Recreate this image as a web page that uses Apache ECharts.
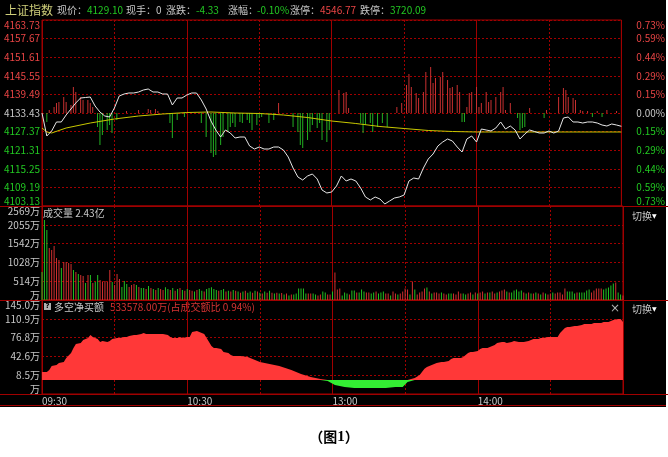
<!DOCTYPE html>
<html><head><meta charset="utf-8">
<script src="https://cdn.jsdelivr.net/npm/echarts@6/dist/echarts.min.js"></script>
<style>
html,body{margin:0;padding:0;background:#fff;}
#bg{position:absolute;left:0;top:0;width:666px;height:407px;background:#000;}
#c{position:absolute;left:0;top:0;width:668px;height:457px;}
</style>
</head><body><div id="bg"></div><div id="c"></div>
<script>
// ---------------- data ----------------
const prevClose = 4133.43;
const priceStep = 6.06;          // price per grid row
const priceEvery = 2;            // minutes between price samples
const priceValues = [
 4133.43,4125.94,4127.57,4130.50,4130.50,4132.78,4134.73,4136.69,4138.32,4138.48,
 4138.64,4135.71,4133.76,4132.45,4132.13,4135.06,4138.97,4139.62,4139.95,4139.95,
 4140.27,4140.92,4141.25,4140.27,4140.27,4139.62,4139.62,4136.04,4138.32,4138.32,
 4139.29,4139.95,4139.95,4137.67,4134.73,4130.82,4127.89,4125.61,4127.89,4126.91,
 4125.28,4125.61,4125.61,4122.68,4121.70,4122.35,4121.70,4121.70,4122.35,4122.35,
 4121.38,4119.09,4115.51,4112.58,4111.60,4112.90,4113.56,4111.93,4108.34,4107.37,
 4107.69,4109.65,4112.90,4111.28,4111.93,4111.28,4108.99,4106.06,4105.09,4106.06,
 4105.41,4103.78,4104.76,4105.74,4106.06,4106.71,4111.28,4112.25,4111.93,4115.51,
 4118.44,4120.07,4122.68,4123.98,4124.96,4124.31,4122.35,4120.72,4124.96,4125.94,
 4123.98,4128.22,4127.89,4127.57,4128.54,4130.50,4128.22,4129.19,4127.89,4124.96,
 4126.59,4127.89,4127.40,4126.91,4126.91,4127.57,4126.91,4127.57,4131.80,4132.13,
 4130.50,4130.50,4130.17,4130.50,4130.50,4130.17,4129.52,4129.19,4129.85,4129.52,
 4129.10
];
const avgMinutes = [0,2,4,10,20,30,40,50,60,70,80,90,100,110,120,130,140,150,160,170,180,200,220,240];
const avgValues  = [4128.54,4127.24,4126.91,4128.54,4130.17,4131.48,4132.45,4133.10,4133.59,4133.76,
  4133.43,4133.27,4132.78,4131.96,4130.82,4130.01,4129.03,4128.38,4127.73,4127.40,4127.24,4127.24,4127.24,4127.24];

const strengthMinutes = [2,3,5,6,7,9,10,12,13,14,16,17,19,20,21,23,24,25,27,28,29,31,35,40,44,45,47,48,
  53,54,56,59,66,68,70,71,72,74,75,77,78,79,80,82,83,85,86,87,89,90,91,94,96,98,
  104,106,107,108,110,111,112,114,115,116,118,119,123,125,126,127,132,133,134,136,137,139,141,143,
  147,149,151,152,153,155,156,158,159,161,162,163,165,166,168,169,170,172,173,174,175,176,177,178,
  180,181,182,184,185,186,188,190,191,192,194,197,198,199,200,202,208,209,214,216,217,218,220,221,
  223,224,226,228,230,232,234,238];
const strengthValues = [-9,3,6,10,11,16,11,8,26,21,16,13,13,10,6,-14,-32,-22,-17,-12,-20,-7,2,3,4,3,4,2,
  -10,-25,-7,-4,-10,-24,-40,-44,-42,-32,-24,-19,-14,-10,-14,-9,-10,-7,-10,-17,-12,-5,-4,-10,-7,10,
  -14,-19,-32,-35,-27,-19,-12,-15,-10,-27,-29,-17,23,20,21,5,-10,-20,-12,-10,-19,-14,-10,-14,
  6,10,28,39,26,20,15,21,41,46,30,35,36,41,33,25,26,28,21,-9,-9,6,20,21,
  26,6,10,21,11,13,16,21,26,3,10,-5,-17,-15,-14,5,-5,3,16,25,23,16,15,13,
  3,2,2,-4,2,-4,3,2];

const volumeValues = [
 765,2186,1911,1420,1366,1475,1147,1093,874,1038,
 1038,1011,983,820,765,710,683,656,465,683,
 683,465,492,683,547,492,520,492,820,492,
 410,710,574,356,520,437,356,410,437,410,
 356,328,330,300,380,330,300,270,330,300,
 270,350,300,270,330,250,300,330,270,250,
 300,270,250,230,270,300,250,230,300,330,
 350,300,270,250,270,300,230,250,230,270,
 250,230,200,230,250,200,230,200,250,230,
 200,180,230,200,250,200,180,200,180,193,
 150,178,123,150,150,178,314,314,314,178,
 178,178,178,150,123,150,232,205,150,150,
 232,752,287,314,123,205,178,150,260,260,
 205,205,287,232,205,205,178,205,232,178,
 205,232,178,178,123,232,178,150,178,232,
 314,287,150,506,287,150,205,232,314,342,
 232,178,205,205,178,205,178,150,178,178,
 178,150,232,178,178,150,178,205,150,205,
 178,205,232,178,205,205,232,178,205,232,
 260,287,232,205,205,260,287,232,260,205,
 178,205,178,178,205,178,150,205,178,150,
 178,205,178,205,205,150,314,232,232,232,
 178,205,205,205,205,260,287,205,260,314,
 314,314,287,314,342,396,451,478,205,150,
 123
];
const volumeDir = [
 'GGGRRRRRGR','RRRGRGRRGR','GRGGRRRRRG','RRRGGGRRRG','RGGRGRGRGR',
 'RGGRGRGRGR','GRRGRGGRGG','GGGRGGRGRG','RGRGRGGRGR','GRGRGRGRGR',
 'GRGRGGGGGG','RRGGRRGGRR','GRRRGGGRGG','RGGGRRGGRG','GGRRGRRGRR',
 'RRGRGRRRRG','RGRRRGRRGG','RRRRGGRRGR','GRRGRGRRGR','RRGRGGGGGR',
 'GRGRGRGRGR','RGRRRRRGGG','GRGGGGGRRR','RRGGGGGRGG','R'
].join('');

const netMinutes = [0,2,3,4,6,7,9,10,12,13,14,16,17,19,20,21,23,24,25,27,28,29,31,32,34,35,36,38,39,41,
  42,43,45,46,48,49,50,52,53,54,56,57,58,60,61,62,64,65,67,68,70,71,72,74,75,77,78,79,82,85,
  90,94,98,103,107,111,115,118,121,125,129,134,138,142,146,149,151,154,156,158,159,161,162,163,
  165,166,168,169,170,172,173,174,176,177,178,180,181,182,184,185,187,188,190,191,192,194,195,197,
  198,199,201,202,203,205,206,207,209,210,211,213,214,216,217,218,220,221,223,224,226,227,228,230,
  231,232,234,235,236,238,239,240];
const netValues = [14.5,14.5,18.1,25.4,27.2,30.8,32.7,39.9,49.0,58.0,65.3,67.1,72.6,76.2,81.6,78.0,74.4,68.9,70.7,68.9,
  70.7,74.4,76.2,76.2,78.0,78.0,79.8,81.6,81.6,83.4,85.3,83.4,83.4,83.4,83.4,83.4,83.4,81.6,78.0,76.2,
  76.2,78.0,76.2,78.0,78.0,87.1,88.9,87.1,83.4,76.2,61.7,58.0,58.0,56.2,50.8,49.0,45.4,43.5,43.5,41.7,
  32.7,29.0,25.4,18.1,10.9,5.4,1.8,-1.8,-9.1,-12.7,-14.5,-14.5,-14.5,-14.5,-12.7,-12.7,-3.6,3.6,9.1,20.0,
  23.6,27.2,29.0,30.8,32.7,32.7,34.5,38.1,39.9,39.9,39.9,41.7,49.0,50.8,50.8,52.6,56.2,58.0,58.0,59.9,
  63.5,67.1,68.9,68.9,67.1,68.9,70.7,68.9,68.9,68.9,70.7,72.6,74.4,74.4,76.2,76.2,78.0,78.0,78.0,78.0,
  85.3,94.3,96.1,96.1,98.0,98.0,99.8,101.6,101.6,101.6,103.4,103.4,103.4,105.2,105.2,107.0,108.8,110.7,110.7,105.2];

const timeLabels = {0:'09:30', 60:'10:30', 120:'13:00', 180:'14:00'};
const volMax = 2569;
const volTickLabels = ['万','514万','1028万','1542万','2055万','2569万'];
const netMin = -25.6, netMax = 145.0;
const netTickLabels = ['万','8.5万','42.6万','76.8万','110.9万','145.0万'];

// ---------------- styles ----------------
const FONT = 'Noto Sans CJK SC';
const RED_T = '#e84444', GRN_T = '#22c822', GRY_T = '#c8c8c8';
const GRID_RED = '#a00000';
const dashed = {show:true, lineStyle:{color:GRID_RED, width:1, type:[2,2]}};
const solid  = {show:true, lineStyle:{color:GRID_RED, width:1, type:'solid'}};

function xPair(gi, withLabels){
  return [
    {type:'value', gridIndex:gi, position:'bottom', min:0, max:240, interval:30, axisLine:{show:false}, axisTick:{show:false},
      axisLabel:{show:false}, splitLine:dashed},
    {type:'value', gridIndex:gi, position:'bottom', min:0, max:240, interval:60, axisLine:{show:false}, axisTick:{show:false},
      splitLine:solid,
      axisLabel:{show:withLabels, formatter:v => timeLabels[v] || '', align:'left', margin:2,
        color:GRY_T, fontFamily:FONT, fontSize:10, showMaxLabel:false}}
  ];
}
const priceColor = v => { const n = Number(v); return n > 0.001 ? RED_T : (n < -0.001 ? GRN_T : GRY_T); };
const baseLbl = {fontFamily:FONT, fontSize:10, verticalAlignMaxLabel:'top', verticalAlignMinLabel:'bottom'};

const option = {
  backgroundColor:'transparent',
  animation:false,
  grid:[
    {left:42, top:20, width:581, height:186, show:true, borderColor:GRID_RED, borderWidth:1},
    {left:42, top:206, width:581, height:94, show:true, borderColor:GRID_RED, borderWidth:1},
    {left:42, top:300, width:581, height:94, show:true, borderColor:GRID_RED, borderWidth:1}
  ],
  xAxis:[...xPair(0,false), ...xPair(1,false), ...xPair(2,true)],
  yAxis:[
    {type:'value', gridIndex:0, min:-5, max:5, interval:1, position:'left',
      axisLine:{show:false}, axisTick:{show:false}, splitLine:dashed,
      axisLabel:{...baseLbl, margin:2, color:priceColor,
        formatter:v => (prevClose + v*priceStep).toFixed(2)}},
    {type:'value', gridIndex:0, min:-5, max:5, interval:1, position:'right',
      axisLine:{show:false}, axisTick:{show:false}, splitLine:{show:false},
      axisLabel:{...baseLbl, margin:15, color:priceColor,
        formatter:v => (Math.abs(v*priceStep)/prevClose*100).toFixed(2) + '%'}},
    {type:'value', gridIndex:0, min:-93, max:93, show:false, splitLine:{show:false}},
    {type:'value', gridIndex:1, min:0, max:volMax, interval:volMax/5, position:'left',
      axisLine:{show:false}, axisTick:{show:false}, splitLine:dashed,
      axisLabel:{...baseLbl, margin:2, color:GRY_T,
        formatter:v => volTickLabels[Math.round(v/(volMax/5))]}},
    {type:'value', gridIndex:2, min:0, max:5, interval:1, position:'left',
      axisLine:{show:false}, axisTick:{show:false}, splitLine:dashed,
      axisLabel:{...baseLbl, margin:2, color:GRY_T, formatter:v => netTickLabels[Math.round(v)]}},
    {type:'value', gridIndex:2, min:netMin, max:netMax, show:false, splitLine:{show:false}}
  ],
  series:[
    {type:'bar', xAxisIndex:0, yAxisIndex:2, barWidth:1, z:2,
      data:strengthMinutes.map((m,i)=>[m, strengthValues[i]]),
      itemStyle:{color:p => p.value[1] >= 0 ? '#c83030' : '#22b022'}},
    {type:'line', xAxisIndex:0, yAxisIndex:0, symbol:'none', z:3,
      data:avgMinutes.map((m,i)=>[m, (avgValues[i]-prevClose)/priceStep]),
      lineStyle:{color:'#c8c800', width:1}},
    {type:'line', xAxisIndex:0, yAxisIndex:0, symbol:'none', z:4,
      data:priceValues.map((p,i)=>[i*priceEvery, (p-prevClose)/priceStep]),
      lineStyle:{color:'#e6e6e6', width:1}},
    {type:'bar', xAxisIndex:2, yAxisIndex:3, barWidth:1, z:2,
      data:volumeValues.map((v,i)=>[i, v]),
      itemStyle:{color:p => volumeDir[p.dataIndex] === 'R' ? '#d03030' : '#22c022'}},
    {type:'line', xAxisIndex:4, yAxisIndex:5, symbol:'none', z:2,
      data:netMinutes.map((m,i)=>[m, Math.max(netValues[i],0)]),
      lineStyle:{width:0}, areaStyle:{color:'#ff3838', opacity:1}},
    {type:'line', xAxisIndex:4, yAxisIndex:5, symbol:'none', z:2,
      data:netMinutes.map((m,i)=>[m, Math.min(netValues[i],0)]),
      lineStyle:{width:0}, areaStyle:{color:'#33ee33', opacity:1}}
  ],
  graphic:[
    {type:'line', shape:{x1:0,y1:206.5,x2:668,y2:206.5}, style:{stroke:GRID_RED, lineWidth:1}, silent:true},
    {type:'line', shape:{x1:0,y1:300.5,x2:668,y2:300.5}, style:{stroke:GRID_RED, lineWidth:1}, silent:true},
    {type:'line', shape:{x1:0,y1:394.5,x2:668,y2:394.5}, style:{stroke:GRID_RED, lineWidth:1}, silent:true},
    {type:'line', shape:{x1:0,y1:405.5,x2:666,y2:405.5}, style:{stroke:GRID_RED, lineWidth:1}, silent:true},
    // title row
    {type:'text', x:5, y:10, style:{text:'上证指数', fill:'#cfcf7a', font:'12px "Noto Sans CJK SC"', verticalAlign:'middle'}},
    {type:'text', x:57, y:10, style:{text:'现价：', fill:GRY_T, font:'10px "Noto Sans CJK SC"', verticalAlign:'middle'}},
    {type:'text', x:87, y:10, style:{text:'4129.10', fill:GRN_T, font:'10px "Noto Sans CJK SC"', verticalAlign:'middle'}},
    {type:'text', x:126, y:10, style:{text:'现手：0', fill:GRY_T, font:'10px "Noto Sans CJK SC"', verticalAlign:'middle'}},
    {type:'text', x:166, y:10, style:{text:'涨跌：', fill:GRY_T, font:'10px "Noto Sans CJK SC"', verticalAlign:'middle'}},
    {type:'text', x:196, y:10, style:{text:'-4.33', fill:GRN_T, font:'10px "Noto Sans CJK SC"', verticalAlign:'middle'}},
    {type:'text', x:228, y:10, style:{text:'涨幅：', fill:GRY_T, font:'10px "Noto Sans CJK SC"', verticalAlign:'middle'}},
    {type:'text', x:257, y:10, style:{text:'-0.10%', fill:GRN_T, font:'10px "Noto Sans CJK SC"', verticalAlign:'middle'}},
    {type:'text', x:290, y:10, style:{text:'涨停：', fill:GRY_T, font:'10px "Noto Sans CJK SC"', verticalAlign:'middle'}},
    {type:'text', x:320, y:10, style:{text:'4546.77', fill:RED_T, font:'10px "Noto Sans CJK SC"', verticalAlign:'middle'}},
    {type:'text', x:360, y:10, style:{text:'跌停：', fill:GRY_T, font:'10px "Noto Sans CJK SC"', verticalAlign:'middle'}},
    {type:'text', x:390, y:10, style:{text:'3720.09', fill:GRN_T, font:'10px "Noto Sans CJK SC"', verticalAlign:'middle'}},
    // volume title
    {type:'text', x:43, y:213, style:{text:'成交量 2.43亿', fill:GRY_T, font:'10px "Noto Sans CJK SC"', verticalAlign:'middle'}},
    // net buy title
    {type:'rect', shape:{x:44, y:303, width:7, height:7}, style:{fill:'#b0b0b0'}},
    {type:'text', x:47.5, y:306.5, style:{text:'?', fill:'#000', font:'bold 7px "DejaVu Sans"', align:'center', verticalAlign:'middle'}},
    {type:'text', x:54, y:307, style:{text:'多空净买额', fill:GRY_T, font:'10px "Noto Sans CJK SC"', verticalAlign:'middle'}},
    {type:'text', x:110, y:307, style:{text:'533578.00万(占成交额比 0.94%)', fill:'#d83434', font:'10px "Noto Sans CJK SC"', verticalAlign:'middle'}},
    // switches
    {type:'text', x:632, y:216, style:{text:'切换', fill:GRY_T, font:'10px "Noto Sans CJK SC"', verticalAlign:'middle'}},
    {type:'text', x:652, y:216, style:{text:'▼', fill:'#ffffff', font:'6px "DejaVu Sans"', verticalAlign:'middle'}},
    {type:'text', x:632, y:309, style:{text:'切换', fill:GRY_T, font:'10px "Noto Sans CJK SC"', verticalAlign:'middle'}},
    {type:'text', x:652, y:309, style:{text:'▼', fill:'#ffffff', font:'6px "DejaVu Sans"', verticalAlign:'middle'}},
    {type:'text', x:615, y:309, style:{text:'×', fill:'#b0b0b0', font:'12px "DejaVu Sans"', align:'center', verticalAlign:'middle'}},
    // caption
    {type:'text', x:334, y:437, style:{text:'{a|（图}{b|1}{a|）}', align:'center', verticalAlign:'middle',
      rich:{a:{fontFamily:FONT, fontWeight:'bold', fontSize:14, fill:'#000', color:'#000'},
            b:{fontFamily:'Liberation Serif', fontWeight:'bold', fontSize:15, fill:'#000', color:'#000'}}}}
  ]
};
const chart = echarts.init(document.getElementById('c'));
chart.setOption(option);
</script></body></html>
